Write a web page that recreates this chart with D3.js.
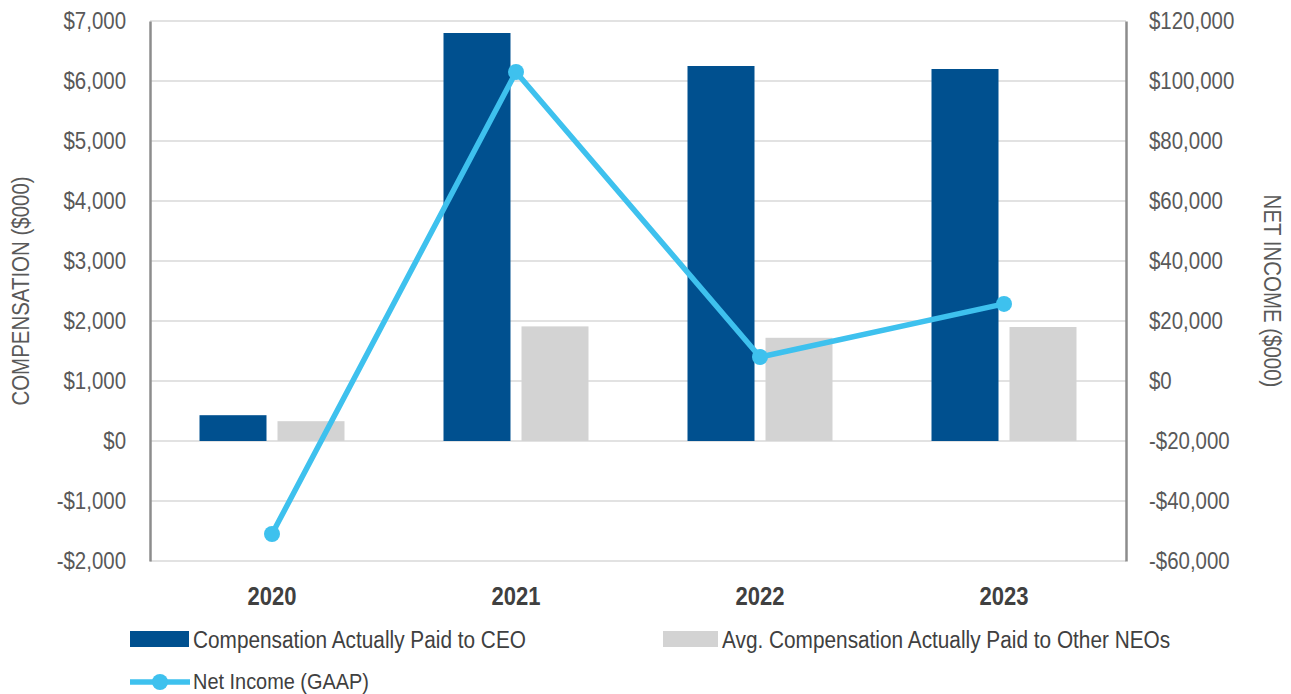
<!DOCTYPE html>
<html><head><meta charset="utf-8">
<script src="https://cdn.jsdelivr.net/npm/d3@7/dist/d3.min.js"></script>
<style>body{margin:0;background:#fff}svg{display:block}text{font-family:"Liberation Sans",Arial,sans-serif}</style>
</head><body><svg id="c" width="1291" height="694"></svg>
<script>
const years = ["2020","2021","2022","2023"];
const ceoComp = [430, 6800, 6250, 6200];
const neoComp = [330, 1910, 1720, 1900];
const netIncome = [-51000, 103000, 8000, 25700];
const leftTicks = [-2000,-1000,0,1000,2000,3000,4000,5000,6000,7000];
const rightTicks = [-60000,-40000,-20000,0,20000,40000,60000,80000,100000,120000];
const seriesNames = ["Compensation Actually Paid to CEO","Avg. Compensation Actually Paid to Other NEOs","Net Income (GAAP)"];

const svg = d3.select("#c");
const L = 150, R = 1126, T = 21, B = 561;
const x = d3.scaleBand().domain(years).range([L, R]);
const yL = d3.scaleLinear().domain([-2000, 7000]).range([B, T]);
const yR = d3.scaleLinear().domain([-60000, 120000]).range([B, T]);
const fmt = v => (v < 0 ? "-$" : "$") + d3.format(",")(Math.abs(v));
const FS = 23.5, K = 0.87, KL = 0.885;
function condense(sel, k) {
  sel.each(function(){
    const l = this.getComputedTextLength();
    this.setAttribute("textLength", l * k);
    this.setAttribute("lengthAdjust", "spacingAndGlyphs");
  });
}

// gridlines
svg.append("g").selectAll("line").data(leftTicks).join("line")
  .attr("x1", L).attr("x2", R).attr("y1", d => yL(d)).attr("y2", d => yL(d))
  .attr("stroke", "#d9d9d9").attr("stroke-width", 1.5);

// left axis
const gL = svg.append("g").attr("transform", `translate(${L},0)`)
  .call(d3.axisLeft(yL).tickValues(leftTicks).tickFormat(fmt).tickSize(0).tickPadding(24));
gL.select(".domain").attr("stroke", "#8c8c8c").attr("stroke-width", 2.5);
gL.selectAll("text").attr("font-size", FS).attr("fill", "#595959").call(condense, K);

const gR = svg.append("g").attr("transform", `translate(${R},0)`)
  .call(d3.axisRight(yR).tickValues(rightTicks).tickFormat(fmt).tickSize(0).tickPadding(23));
gR.select(".domain").attr("stroke", "#8c8c8c").attr("stroke-width", 2.5);
gR.selectAll("text").attr("font-size", FS).attr("fill", "#595959").call(condense, K);

// bars
const bw = 67, gap = 11;
svg.append("g").selectAll("rect").data(years).join("rect")
  .attr("x", d => x(d) + x.bandwidth()/2 - gap/2 - bw)
  .attr("width", bw)
  .attr("y", (d,i) => yL(ceoComp[i]))
  .attr("height", (d,i) => yL(0) - yL(ceoComp[i]))
  .attr("fill", "#00508f");
svg.append("g").selectAll("rect").data(years).join("rect")
  .attr("x", d => x(d) + x.bandwidth()/2 + gap/2)
  .attr("width", bw)
  .attr("y", (d,i) => yL(neoComp[i]))
  .attr("height", (d,i) => yL(0) - yL(neoComp[i]))
  .attr("fill", "#d3d3d3");

// line
const cx = d => x(d) + x.bandwidth()/2;
svg.append("path").datum(years)
  .attr("d", d3.line().x(cx).y((d,i) => yR(netIncome[i])))
  .attr("fill", "none").attr("stroke", "#3ec1ee").attr("stroke-width", 5.5);
svg.append("g").selectAll("circle").data(years).join("circle")
  .attr("cx", cx).attr("cy", (d,i) => yR(netIncome[i])).attr("r", 8)
  .attr("fill", "#3ec1ee");

// x labels
svg.append("g").selectAll("text").data(years).join("text")
  .attr("x", cx).attr("y", 605).attr("text-anchor", "middle")
  .attr("font-size", 25).attr("font-weight", "bold").attr("fill", "#404040").text(d => d)
  .call(condense, 0.88);

// axis titles
svg.append("text").attr("transform", "translate(29,291) rotate(-90)")
  .attr("text-anchor", "middle").attr("font-size", FS).attr("fill", "#595959").text("COMPENSATION ($000)").call(condense, K);
svg.append("text").attr("transform", "translate(1264,291) rotate(90)")
  .attr("text-anchor", "middle").attr("font-size", FS).attr("fill", "#595959").text("NET INCOME ($000)").call(condense, K);

// legend
const lg = svg.append("g");
lg.append("rect").attr("x", 130).attr("y", 631).attr("width", 59).attr("height", 16).attr("fill", "#00508f");
lg.append("text").attr("x", 193).attr("y", 648).attr("font-size", FS).attr("fill", "#404040").text(seriesNames[0]).call(condense, KL);
lg.append("rect").attr("x", 663).attr("y", 631).attr("width", 55).attr("height", 16).attr("fill", "#d3d3d3");
lg.append("text").attr("x", 722).attr("y", 648).attr("font-size", FS).attr("fill", "#404040").text(seriesNames[1]).call(condense, KL);
lg.append("line").attr("x1", 130).attr("x2", 190).attr("y1", 682).attr("y2", 682).attr("stroke", "#3ec1ee").attr("stroke-width", 5.5);
lg.append("circle").attr("cx", 160).attr("cy", 682).attr("r", 8).attr("fill", "#3ec1ee");
lg.append("text").attr("x", 193).attr("y", 689).attr("font-size", 22.5).attr("fill", "#404040").text(seriesNames[2]).call(condense, KL);
</script></body></html>
